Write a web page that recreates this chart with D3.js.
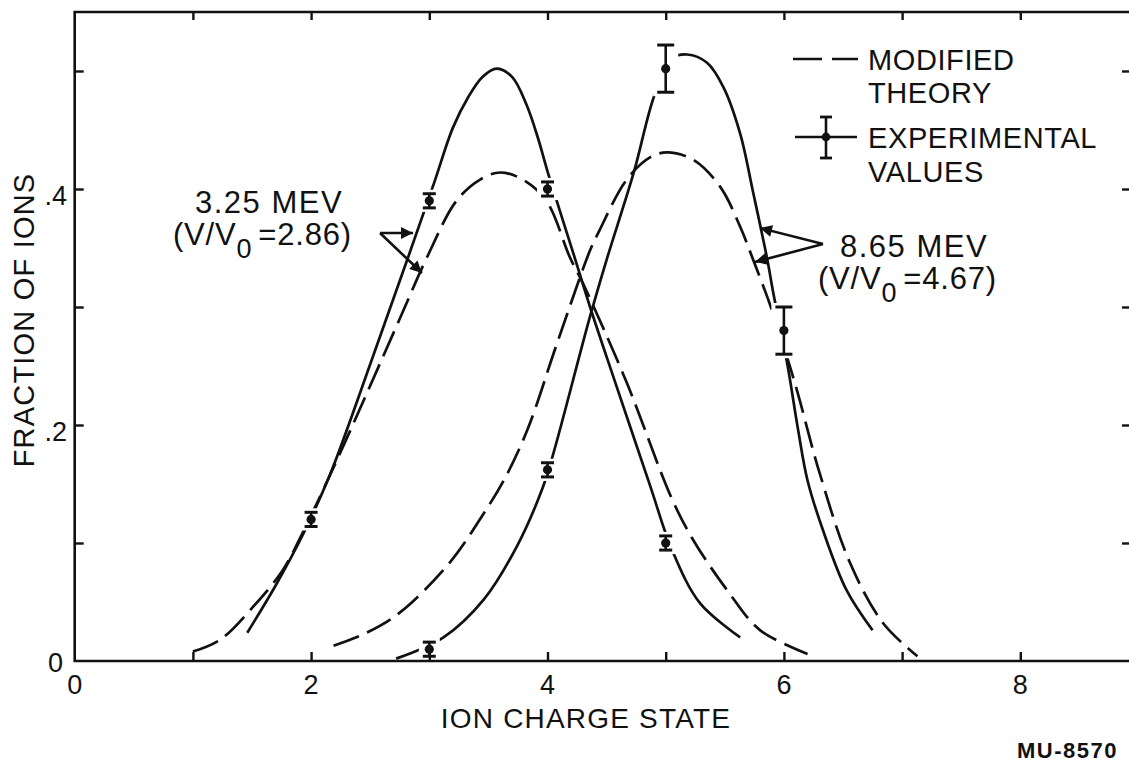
<!DOCTYPE html>
<html>
<head>
<meta charset="utf-8">
<script src="https://cdn.jsdelivr.net/npm/d3@7"></script>
<style>
  html, body { margin: 0; padding: 0; background: #fff; }
  svg { display: block; }
  text { font-family: "Liberation Sans", Arial, sans-serif; fill: #111; }
</style>
</head>
<body>
<svg id="chart" width="1129" height="762"></svg>
<script>
// ---------- data ----------
// Curves: [ion charge state, fraction of ions]
const solid325 = [[1.46,0.024],[1.70,0.064],[1.93,0.107],[2.16,0.158],[2.53,0.260],[2.82,0.342],[3.04,0.405],[3.20,0.452],[3.33,0.478],[3.45,0.495],[3.57,0.502],[3.70,0.495],[3.82,0.472],[3.92,0.443],[4.00,0.415],[4.10,0.383],[4.22,0.345],[4.36,0.300],[4.57,0.237],[4.87,0.148],[5.05,0.095],[5.29,0.049],[5.63,0.020]];
const dashed325 = [[1.00,0.008],[1.23,0.018],[1.51,0.046],[1.76,0.077],[1.92,0.107],[2.19,0.164],[2.75,0.290],[2.98,0.342],[3.23,0.390],[3.43,0.408],[3.60,0.414],[3.79,0.408],[3.99,0.390],[4.19,0.342],[4.30,0.320],[4.67,0.236],[5.05,0.138],[5.23,0.103],[5.52,0.060],[5.80,0.026],[6.20,0.006]];
const solid865 = [[2.72,0.002],[3.12,0.020],[3.46,0.052],[3.74,0.097],[3.96,0.147],[4.05,0.176],[4.36,0.292],[4.50,0.340],[4.73,0.414],[4.91,0.481],[5.06,0.511],[5.18,0.514],[5.35,0.507],[5.49,0.486],[5.63,0.447],[5.74,0.397],[5.86,0.340],[5.91,0.312],[6.03,0.251],[6.12,0.196],[6.20,0.153],[6.33,0.111],[6.53,0.060],[6.75,0.026]];
const dashed865 = [[2.19,0.013],[2.47,0.024],[2.75,0.041],[3.17,0.083],[3.46,0.125],[3.63,0.153],[3.83,0.196],[4.08,0.269],[4.36,0.348],[4.44,0.365],[4.67,0.408],[4.87,0.427],[5.01,0.431],[5.23,0.425],[5.46,0.402],[5.63,0.368],[5.74,0.340],[5.90,0.297],[6.10,0.233],[6.30,0.160],[6.56,0.083],[6.84,0.032],[7.13,0.004]];

// Experimental values
const exp325X = [2, 3, 4, 5];
const exp325Y = [0.12, 0.39, 0.40, 0.10];
const exp325Err = [0.006, 0.006, 0.006, 0.006];
const exp865X = [3, 4, 5, 6];
const exp865Y = [0.01, 0.162, 0.502, 0.28];
const exp865Err = [0.006, 0.006, 0.02, 0.02];

// Ticks
const xMinorTicks = [1, 2, 3, 4, 5, 6, 7, 8];
const xTickLabels = [0, 2, 4, 6, 8];
const yMinorTicks = [0.1, 0.2, 0.3, 0.4, 0.5];
const yTickVals = [0, 0.2, 0.4];
const yTickText = ["0", ".2", ".4"];

const xTitle = "ION CHARGE STATE";
const yTitle = "FRACTION OF IONS";
const legendTexts = [["MODIFIED", "THEORY"], ["EXPERIMENTAL", "VALUES"]];

// ---------- layout ----------
const svg = d3.select("#chart");
const x = d3.scaleLinear().domain([0, 9]).range([74.7, 1138.5]);
const y = d3.scaleLinear().domain([0, 0.55]).range([661, 12]);
const frameRight = 1131;

const line = d3.line().x(d => x(d[0])).y(d => y(d[1])).curve(d3.curveCatmullRom.alpha(0.5));

const curveG = svg.append("g").attr("fill", "none").attr("stroke", "#111")
  .attr("stroke-width", 2.7).attr("stroke-linecap", "butt");
curveG.append("path").attr("d", line(solid325));
curveG.append("path").attr("d", line(solid865));
curveG.append("path").attr("d", line(dashed325)).attr("stroke-dasharray", "27,9");
curveG.append("path").attr("d", line(dashed865)).attr("stroke-dasharray", "27,9");

// experimental points with white halo (lines break around them)
function drawPoints(xs, ys, es) {
  const g = svg.append("g");
  xs.forEach((xv, i) => {
    const cx = x(xv), cy = y(ys[i]);
    const yt = y(ys[i] + es[i]), yb = y(ys[i] - es[i]);
    const capW = es[i] > 0.01 ? 17 : 13;
    g.append("rect").attr("x", cx - capW / 2 - 4).attr("y", yt - 4)
      .attr("width", capW + 8).attr("height", yb - yt + 8).attr("fill", "#fff");
    g.append("line").attr("x1", cx).attr("x2", cx).attr("y1", yt).attr("y2", yb)
      .attr("stroke", "#111").attr("stroke-width", 2.6);
    [yt, yb].forEach(yy => g.append("line").attr("x1", cx - capW / 2).attr("x2", cx + capW / 2)
      .attr("y1", yy).attr("y2", yy).attr("stroke", "#111").attr("stroke-width", 3));
    g.append("circle").attr("cx", cx).attr("cy", cy).attr("r", 4.6).attr("fill", "#111");
  });
}
drawPoints(exp325X, exp325Y, exp325Err);
drawPoints(exp865X, exp865Y, exp865Err);

// ---------- frame and ticks ----------
const frame = svg.append("g").attr("stroke", "#111").attr("fill", "none");
frame.append("path")
  .attr("d", `M${x(0)},${y(0.55)} L${x(0)},${y(0)} L${frameRight},${y(0)} L${frameRight},${y(0.55)} Z`)
  .attr("stroke-width", 2.6);

const bottomAxis = d3.axisBottom(x).tickValues(xMinorTicks).tickSize(-9).tickFormat("");
const topAxis = d3.axisTop(x).tickValues(xMinorTicks).tickSize(-8).tickFormat("");
const leftAxis = d3.axisLeft(y).tickValues(yMinorTicks).tickSize(-9).tickFormat("");
const rightAxis = d3.axisRight(y).tickValues(yMinorTicks).tickSize(-9).tickFormat("");
function styleAxis(g) { g.select(".domain").remove(); g.selectAll("line").attr("stroke", "#111").attr("stroke-width", 2.4); }
svg.append("g").attr("transform", `translate(0,${y(0)})`).call(bottomAxis).call(styleAxis);
svg.append("g").attr("transform", `translate(0,${y(0.55)})`).call(topAxis).call(styleAxis);
svg.append("g").attr("transform", `translate(${x(0)},0)`).call(leftAxis).call(styleAxis);
svg.append("g").attr("transform", `translate(${frameRight},0)`).call(rightAxis).call(styleAxis);

// tick labels
svg.append("g").selectAll("text").data(xTickLabels).join("text")
  .attr("x", d => x(d)).attr("y", y(0) + 33).attr("text-anchor", "middle")
  .attr("font-size", 27).text(d => String(d));
svg.append("g").selectAll("text").data(yTickVals).join("text")
  .attr("x", (d, i) => i === 0 ? 63 : 67)
  .attr("y", d => y(d) + (d === 0 ? 11 : 16)).attr("text-anchor", "end")
  .attr("font-size", 27).text((d, i) => yTickText[i]);

// axis titles
svg.append("text").attr("x", 586).attr("y", 728).attr("text-anchor", "middle")
  .attr("font-size", 28).attr("letter-spacing", 1.2).text(xTitle);
svg.append("text").attr("transform", "translate(34,320) rotate(-90)").attr("text-anchor", "middle")
  .attr("font-size", 29).attr("letter-spacing", 1.2).text(yTitle);

// ---------- legend ----------
const lg = svg.append("g");
lg.append("line").attr("x1", 793).attr("x2", 858).attr("y1", 59).attr("y2", 59)
  .attr("stroke", "#111").attr("stroke-width", 2.7).attr("stroke-dasharray", "29,10");
lg.append("line").attr("x1", 795).attr("x2", 857).attr("y1", 137).attr("y2", 137)
  .attr("stroke", "#111").attr("stroke-width", 2.6);
lg.append("line").attr("x1", 826).attr("x2", 826).attr("y1", 117).attr("y2", 158)
  .attr("stroke", "#111").attr("stroke-width", 2.6);
[117, 158].forEach(yy => lg.append("line").attr("x1", 820).attr("x2", 832).attr("y1", yy).attr("y2", yy)
  .attr("stroke", "#111").attr("stroke-width", 2.8));
lg.append("circle").attr("cx", 826).attr("cy", 137).attr("r", 4.4).attr("fill", "#111");
const legendBase = [[70, 103], [148, 182]];
legendTexts.forEach((pair, i) => pair.forEach((t, j) =>
  lg.append("text").attr("x", 868).attr("y", legendBase[i][j]).attr("font-size", 29)
    .attr("letter-spacing", 0.6).text(t)));

// ---------- annotations ----------
const defs = svg.append("defs");
defs.append("marker").attr("id", "ah").attr("viewBox", "0 0 10 10").attr("refX", 10).attr("refY", 5)
  .attr("markerWidth", 16).attr("markerHeight", 12).attr("markerUnits", "userSpaceOnUse")
  .attr("orient", "auto").append("path").attr("d", "M0,0 L10,5 L0,10 Z").attr("fill", "#111");

function arrow(x1, y1, x2, y2) {
  svg.append("line").attr("x1", x1).attr("y1", y1).attr("x2", x2).attr("y2", y2)
    .attr("stroke", "#111").attr("stroke-width", 2.6).attr("marker-end", "url(#ah)");
}
arrow(380, 233, 413, 233);
arrow(380, 233, 422, 273);
arrow(823, 244, 760, 228);
arrow(823, 244, 755, 262);

function label(xp, yp, energy, ratio) {
  svg.append("text").attr("x", xp + 22).attr("y", yp).attr("font-size", 31).attr("letter-spacing", 1.5).text(energy);
  const t = svg.append("text").attr("x", xp).attr("y", yp + 32).attr("font-size", 31).attr("letter-spacing", 0.8);
  t.append("tspan").text("(V/V");
  t.append("tspan").attr("dy", 13).attr("font-size", 27).text("0");
  t.append("tspan").attr("dy", -13).attr("dx", 6).text("=" + ratio + ")");
}
label(173, 213, "3.25 MEV", "2.86");
label(818, 257, "8.65 MEV", "4.67");

svg.append("text").attr("x", 1118).attr("y", 758).attr("text-anchor", "end")
  .attr("font-size", 22).attr("font-weight", "bold").attr("letter-spacing", 1.5).text("MU-8570");
</script>
</body>
</html>
